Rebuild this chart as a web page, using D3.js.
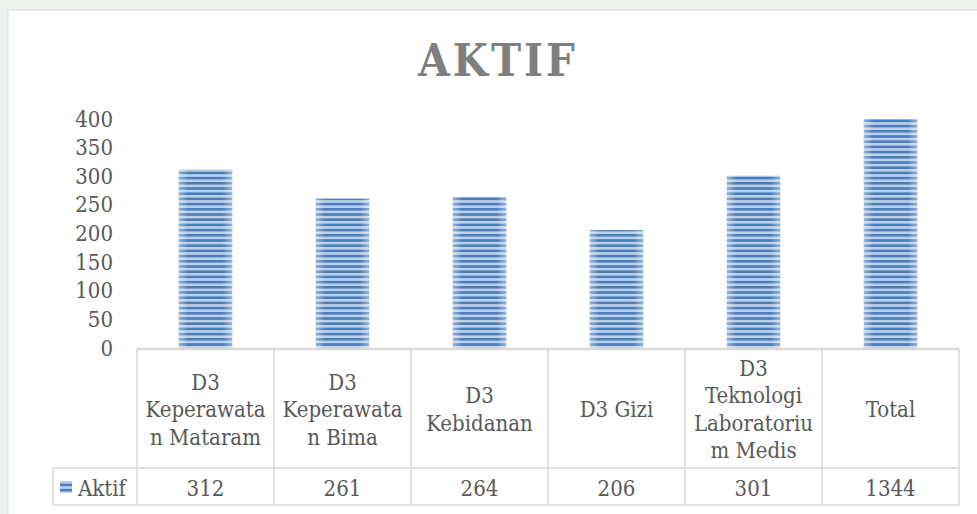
<!DOCTYPE html>
<html>
<head>
<meta charset="utf-8">
<script src="https://cdn.jsdelivr.net/npm/d3@7"></script>
<style>
  body { margin: 0; background: #eef2ee; }
  svg { display: block; }
  text { font-family: "DejaVu Serif Condensed", "DejaVu Serif", serif; fill: #595959; }
</style>
</head>
<body>
<svg id="chart"></svg>
<script>
const categories = [
    ["D3", "Keperawata", "n Mataram"],
    ["D3", "Keperawata", "n Bima"],
    ["D3", "Kebidanan"],
    ["D3 Gizi"],
    ["D3", "Teknologi", "Laboratoriu", "m Medis"],
    ["Total"]
];
const aktif = [312, 261, 264, 206, 301, 1344];
const yTicks = [0, 50, 100, 150, 200, 250, 300, 350, 400];
const seriesName = "Aktif";
const title = "AKTIF";

function drawChart() {
    const w = 977;
    const h = 514;
    const left = 137, right = 959, top = 119, bottom = 348;
    const fontSize = 22;
    const svg = d3.select("#chart")
        .attr("width", w)
        .attr("height", h);

    // chart frame
    svg.append("rect")
        .attr("x", 8).attr("y", 10)
        .attr("width", w).attr("height", h)
        .attr("fill", "#fff")
        .attr("stroke", "#d9d9d9");

    const defs = svg.append("defs");
    const pat = defs.append("pattern")
        .attr("id", "stripes")
        .attr("patternUnits", "userSpaceOnUse")
        .attr("width", 10).attr("height", 5.2);
    pat.append("rect").attr("width", 10).attr("height", 5.2).attr("fill", "#bccfe8");
    pat.append("rect").attr("y", 0).attr("width", 10).attr("height", 2.6).attr("fill", "#4a7ebb");

    const fade = defs.append("linearGradient").attr("id", "fade");
    fade.append("stop").attr("offset", "0").attr("stop-color", "#fff").attr("stop-opacity", 0.4);
    fade.append("stop").attr("offset", "0.18").attr("stop-color", "#fff").attr("stop-opacity", 0);
    fade.append("stop").attr("offset", "0.82").attr("stop-color", "#fff").attr("stop-opacity", 0);
    fade.append("stop").attr("offset", "1").attr("stop-color", "#fff").attr("stop-opacity", 0.4);

    svg.append("text")
        .attr("x", 498).attr("y", 76)
        .attr("text-anchor", "middle")
        .attr("font-size", 45)
        .attr("font-weight", "bold")
        .attr("letter-spacing", 3)
        .style("fill", "#7f7f7f")
        .text(title);

    const x = d3.scaleBand()
        .domain(d3.range(categories.length))
        .range([left, right])
        .paddingInner(0)
        .paddingOuter(0);
    const y = d3.scaleLinear()
        .domain([0, 400])
        .range([bottom, top]);

    const yAxis = d3.axisLeft(y).tickValues(yTicks).tickSize(0).tickPadding(0);
    const gy = svg.append("g")
        .attr("transform", "translate(113,0)")
        .call(yAxis);
    gy.select(".domain").remove();
    gy.selectAll("text")
        .attr("font-size", fontSize)
        .attr("font-family", "DejaVu Serif Condensed, DejaVu Serif, serif")
        .style("fill", "#595959");

    const barW = x.bandwidth() * 0.39;
    const bars = svg.selectAll(".bar")
        .data(aktif)
        .enter()
        .append("g")
        .attr("class", "bar");
    bars.append("rect")
        .attr("x", (d, i) => x(i) + (x.bandwidth() - barW) / 2)
        .attr("y", (d) => y(Math.min(d, 400)))
        .attr("width", barW)
        .attr("height", (d) => y(0) - y(Math.min(d, 400)))
        .attr("fill", "url(#stripes)");
    bars.append("rect")
        .attr("x", (d, i) => x(i) + (x.bandwidth() - barW) / 2)
        .attr("y", (d) => y(Math.min(d, 400)))
        .attr("width", barW)
        .attr("height", (d) => y(0) - y(Math.min(d, 400)))
        .attr("fill", "url(#fade)");

    // data table
    const rowTop = 349, rowMid = 468, rowBot = 505, legLeft = 53;
    const grid = svg.append("g")
        .attr("stroke", "#d9d9d9")
        .attr("stroke-width", 1.5)
        .attr("fill", "none");
    grid.append("line").attr("x1", left).attr("x2", right).attr("y1", rowTop).attr("y2", rowTop)
        .attr("stroke-width", 2.5);
    grid.append("line").attr("x1", legLeft).attr("x2", right).attr("y1", rowMid).attr("y2", rowMid);
    grid.append("line").attr("x1", legLeft).attr("x2", right).attr("y1", rowBot).attr("y2", rowBot);
    grid.append("line").attr("x1", legLeft).attr("x2", legLeft).attr("y1", rowMid).attr("y2", rowBot);
    x.domain().concat([categories.length]).forEach((i) => {
        const xx = i < categories.length ? x(i) : right;
        grid.append("line").attr("x1", xx).attr("x2", xx).attr("y1", rowTop).attr("y2", rowBot);
    });

    const lineH = 27.5;
    const catG = svg.selectAll(".cat")
        .data(categories)
        .enter()
        .append("text")
        .attr("class", "cat")
        .attr("text-anchor", "middle")
        .attr("font-size", fontSize)
        .attr("x", (d, i) => x(i) + x.bandwidth() / 2);
    catG.selectAll("tspan")
        .data((d) => d.map((t, j) => ({ t: t, j: j, n: d.length })))
        .enter()
        .append("tspan")
        .attr("x", function () { return d3.select(this.parentNode).attr("x"); })
        .attr("y", (d) => 409 + 8 + (d.j - (d.n - 1) / 2) * lineH)
        .text((d) => d.t);

    svg.selectAll(".val")
        .data(aktif)
        .enter()
        .append("text")
        .attr("class", "val")
        .attr("text-anchor", "middle")
        .attr("font-size", fontSize)
        .attr("x", (d, i) => x(i) + x.bandwidth() / 2)
        .attr("y", 496)
        .text((d) => d);

    svg.append("rect")
        .attr("x", 60).attr("y", 481)
        .attr("width", 12).attr("height", 12)
        .attr("fill", "url(#stripes)");
    svg.append("text")
        .attr("x", 78).attr("y", 496)
        .attr("font-size", fontSize)
        .text(seriesName);
}

document.addEventListener("DOMContentLoaded", drawChart);
</script>
</body>
</html>
